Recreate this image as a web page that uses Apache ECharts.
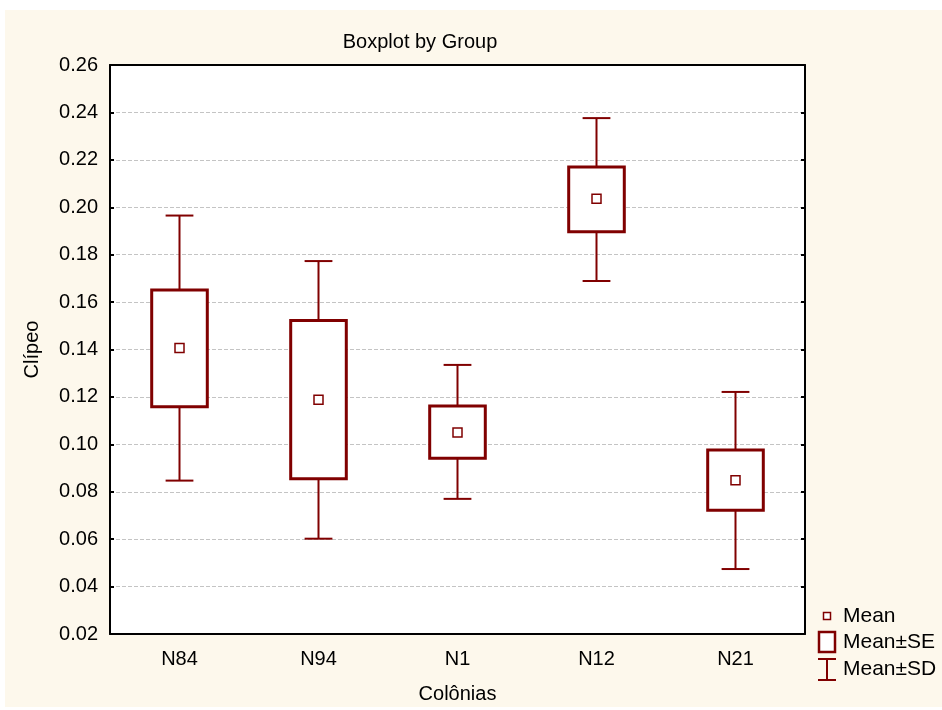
<!DOCTYPE html>
<html>
<head>
<meta charset="utf-8">
<script src="https://cdn.jsdelivr.net/npm/echarts@6/dist/echarts.min.js"></script>
<style>
  html, body { margin: 0; padding: 0; background: #ffffff; }
  #frame { position: absolute; left: 5px; top: 10px; width: 937px; height: 697px; background: #fdf8ec; }
  #chart { position: absolute; left: 0; top: 0; width: 942px; height: 710px; }
</style>
</head>
<body>
<div id="frame"></div>
<div id="chart"></div>
<script>
// Colony groups and their summary statistics for "Clípeo"
const categories = ['N84', 'N94', 'N1', 'N12', 'N21'];
const meanValues = [0.1406, 0.1188, 0.1050, 0.2036, 0.0848];
const seLower   = [0.1159, 0.0855, 0.0941, 0.1897, 0.0722];
const seUpper   = [0.1651, 0.1522, 0.1162, 0.2170, 0.0976];
const sdLower   = [0.0847, 0.0602, 0.0770, 0.1689, 0.0474];
const sdUpper   = [0.1965, 0.1773, 0.1335, 0.2376, 0.1221];
const yMin = 0.02, yMax = 0.26, yStep = 0.02;

const DARK_RED = '#800000';
const FONT = '"Liberation Sans", Arial, sans-serif';

const chart = echarts.init(document.getElementById('chart'), null, { renderer: 'canvas' });

// Whiskers (mean ± SD) drawn outside the box, with caps
function renderSD(params, api) {
  const i = api.value(0);
  const band = api.size([1, 0])[0];
  const capHalf = band * 0.1;
  const pTop = api.coord([i, api.value(4)]);
  const pBoxTop = api.coord([i, api.value(3)]);
  const pBoxBot = api.coord([i, api.value(2)]);
  const pBot = api.coord([i, api.value(1)]);
  const style = { stroke: DARK_RED, lineWidth: 2, fill: null };
  return {
    type: 'group',
    children: [
      { type: 'line', shape: { x1: pTop[0], y1: pTop[1], x2: pBoxTop[0], y2: pBoxTop[1] }, style },
      { type: 'line', shape: { x1: pBoxBot[0], y1: pBoxBot[1], x2: pBot[0], y2: pBot[1] }, style },
      { type: 'line', shape: { x1: pTop[0] - capHalf, y1: pTop[1], x2: pTop[0] + capHalf, y2: pTop[1] }, style },
      { type: 'line', shape: { x1: pBot[0] - capHalf, y1: pBot[1], x2: pBot[0] + capHalf, y2: pBot[1] }, style }
    ]
  };
}

// Box (mean ± SE)
function renderSE(params, api) {
  const i = api.value(0);
  const band = api.size([1, 0])[0];
  const half = band * 0.2;
  const pTop = api.coord([i, api.value(2)]);
  const pBot = api.coord([i, api.value(1)]);
  return {
    type: 'rect',
    shape: { x: pTop[0] - half, y: pTop[1], width: half * 2, height: pBot[1] - pTop[1] },
    style: { stroke: DARK_RED, lineWidth: 3, fill: '#ffffff' }
  };
}

const sdData = categories.map((c, i) => [i, sdLower[i], seLower[i], seUpper[i], sdUpper[i]]);
const seData = categories.map((c, i) => [i, seLower[i], seUpper[i]]);
const meanData = categories.map((c, i) => [i, meanValues[i]]);

const axisLineStyle = { color: '#000000', width: 2 };
const tickStyle = { color: '#000000', width: 2 };

const legendTop = 616;
const legendX = 827;
const legendTextX = 843;
const legendFont = '21px ' + FONT;

chart.setOption({
  backgroundColor: 'transparent',
  animation: false,
  textStyle: { fontFamily: FONT },
  title: {
    text: 'Boxplot by Group',
    left: 415,
    top: 27,
    textAlign: 'center',
    textStyle: { fontFamily: FONT, fontSize: 20, fontWeight: 'normal', color: '#000000' }
  },
  grid: {
    left: 110, right: 137, top: 65, bottom: 76,
    show: true, backgroundColor: '#ffffff', borderWidth: 0,
    containLabel: false
  },
  xAxis: [
    {
      type: 'category',
      data: categories,
      position: 'bottom',
      boundaryGap: true,
      name: 'Colônias',
      nameLocation: 'middle',
      nameGap: 50,
      nameTextStyle: { fontFamily: FONT, fontSize: 20, color: '#000000' },
      axisLine: { lineStyle: axisLineStyle },
      axisTick: { inside: true, alignWithLabel: true, length: 5, lineStyle: tickStyle },
      axisLabel: { fontFamily: FONT, fontSize: 20, color: '#000000', margin: 15 },
      splitLine: { show: false }
    },
    {
      type: 'category',
      data: categories,
      position: 'top',
      boundaryGap: true,
      axisLine: { lineStyle: axisLineStyle },
      axisTick: { inside: true, alignWithLabel: true, length: 5, lineStyle: tickStyle },
      axisLabel: { show: false },
      splitLine: { show: false }
    }
  ],
  yAxis: [
    {
      type: 'value',
      min: yMin, max: yMax, interval: yStep,
      position: 'left',
      name: 'Clípeo',
      nameLocation: 'middle',
      nameGap: 68,
      nameRotate: 90,
      nameTextStyle: { fontFamily: FONT, fontSize: 20, color: '#000000' },
      axisLine: { show: true, lineStyle: axisLineStyle },
      axisTick: { show: true, inside: true, length: 4, lineStyle: tickStyle },
      axisLabel: {
        fontFamily: FONT, fontSize: 20, color: '#000000', margin: 12,
        formatter: v => v.toFixed(2)
      },
      splitLine: { show: true, lineStyle: { color: '#c4c4c4', type: [4, 2], width: 1 } }
    },
    {
      type: 'value',
      min: yMin, max: yMax, interval: yStep,
      position: 'right',
      axisLine: { show: true, lineStyle: axisLineStyle },
      axisTick: { show: true, inside: true, length: 4, lineStyle: tickStyle },
      axisLabel: { show: false },
      splitLine: { show: false }
    }
  ],
  series: [
    {
      name: 'Mean±SD',
      type: 'custom',
      xAxisIndex: 0, yAxisIndex: 0,
      renderItem: renderSD,
      encode: { x: 0, y: [1, 2, 3, 4] },
      data: sdData,
      z: 2
    },
    {
      name: 'Mean±SE',
      type: 'custom',
      xAxisIndex: 0, yAxisIndex: 0,
      renderItem: renderSE,
      encode: { x: 0, y: [1, 2] },
      data: seData,
      z: 3
    },
    {
      name: 'Mean',
      type: 'scatter',
      xAxisIndex: 0, yAxisIndex: 0,
      symbol: 'rect',
      symbolSize: 9,
      itemStyle: { color: '#ffffff', borderColor: DARK_RED, borderWidth: 1.5, opacity: 1 },
      data: meanData,
      z: 4
    }
  ],
  graphic: [
    // Legend: Mean
    { type: 'rect', shape: { x: legendX - 3.5, y: legendTop - 3.5, width: 7, height: 7 },
      style: { fill: '#ffffff', stroke: DARK_RED, lineWidth: 1.5 } },
    { type: 'text', x: legendTextX, y: legendTop,
      style: { text: 'Mean', font: legendFont, fill: '#000000', verticalAlign: 'middle' } },
    // Legend: Mean±SE
    { type: 'rect', shape: { x: 819, y: 632, width: 16, height: 20 },
      style: { fill: '#ffffff', stroke: DARK_RED, lineWidth: 2.5 } },
    { type: 'text', x: legendTextX, y: 642,
      style: { text: 'Mean±SE', font: legendFont, fill: '#000000', verticalAlign: 'middle' } },
    // Legend: Mean±SD
    { type: 'line', shape: { x1: 818, y1: 659, x2: 836, y2: 659 }, style: { stroke: DARK_RED, lineWidth: 2 } },
    { type: 'line', shape: { x1: 827, y1: 659, x2: 827, y2: 680 }, style: { stroke: DARK_RED, lineWidth: 2 } },
    { type: 'line', shape: { x1: 818, y1: 680, x2: 836, y2: 680 }, style: { stroke: DARK_RED, lineWidth: 2 } },
    { type: 'text', x: legendTextX, y: 669,
      style: { text: 'Mean±SD', font: legendFont, fill: '#000000', verticalAlign: 'middle' } }
  ]
});
</script>
</body>
</html>
